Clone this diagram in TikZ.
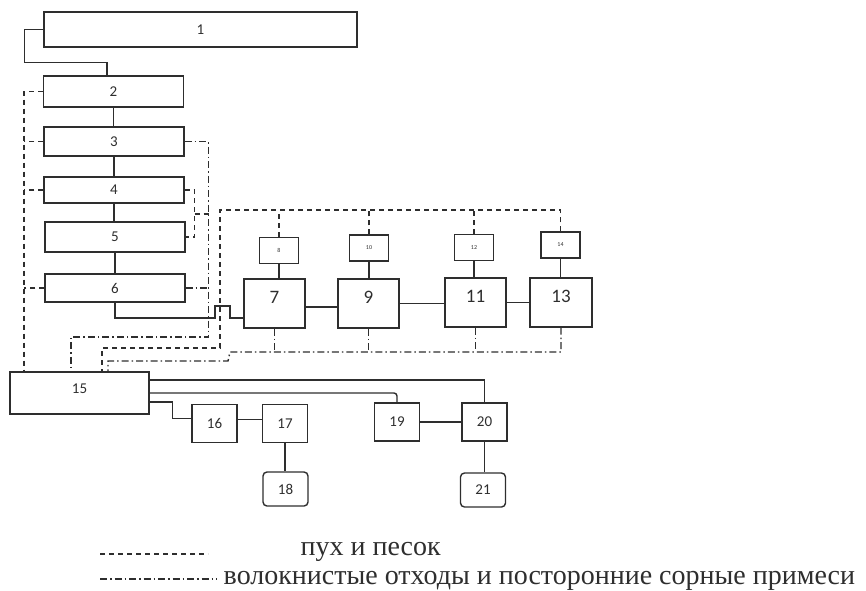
\documentclass[tikz,border=0pt]{standalone}
\usepackage{fontspec}
\setmainfont{Liberation Serif}
\newfontfamily\boxfont{Carlito}
\usepackage{xcolor}
\usetikzlibrary{positioning, calc}
\definecolor{cline}{HTML}{2e2e2e}

\begin{document}
\begin{tikzpicture}[x=1pt, y=-1pt,
  color=cline, line width=1.4pt,
  font=\boxfont\fontsize{15}{15}\selectfont,
  box/.style={draw, inner sep=0pt},
  col/.style={box, minimum width=140pt},
  big/.style={box, minimum width=61pt, minimum height=49pt,
    font=\boxfont\fontsize{19}{19}\selectfont, text height=12pt, text depth=13pt},
  tiny/.style={box, minimum width=39pt, minimum height=26pt,
    font=\boxfont\fontsize{6}{6}\selectfont},
  sq/.style={box, minimum width=45pt, minimum height=38pt},
  term/.style={sq, rounded corners=4pt, minimum height=34pt},
  fluff/.style={dash pattern=on 5pt off 4pt},
  waste/.style={dash pattern=on 7pt off 3pt on 1.5pt off 3pt},
  legend/.style={font=\normalfont\fontsize{28}{28}\selectfont, anchor=base west, inner sep=0pt},
  ]
\useasboundingbox (0,0) rectangle (866,590);

\node[box, minimum width=313pt, minimum height=35pt] (n1) at (200.5,29.5) {1};
\node[col, minimum height=31pt] (n2) at (113.5,91.5) {2};
\node[col, minimum height=29pt] (n3) at (114,141.5) {3};
\node[col, minimum height=26pt] (n4) at (114,190) {4};
\node[col, minimum height=30pt] (n5) at (115,237) {5};
\node[col, minimum height=28pt] (n6) at (115,288) {6};

\node[big] (n7) at (274.5,303.5) {7};
\node[big] (n9) at (368.5,303.5) {9};
\node[big] (n11) at (475.5,302.5) {11};
\node[big, minimum width=62pt] (n13) at (561,302.5) {13};
\node[tiny] (n8) at (279,250.5) {8};
\node[tiny] (n10) at (369,248) {10};
\node[tiny] (n12) at (474,247.5) {12};
\node[tiny] (n14) at (560.5,245) {14};

\node[box, minimum width=139pt, minimum height=42pt, text height=10pt, text depth=10pt]
  (n15) at (79.5,393) {15};
\node[sq] (n16) at (214.5,423.5) {16};
\node[sq] (n17) at (285,423.5) {17};
\node[term] (n18) at (285.5,489) {18};
\node[sq] (n19) at (397,422) {19};
\node[sq] (n20) at (484.5,422) {20};
\node[term] (n21) at (483,490) {21};

% main flow
\draw (n1.west) -- ++(-19,0) -- ++(0,33) -| ([xshift=-6.5pt]n2.north);
\foreach \a/\b in {n2/n3, n3/n4, n4/n5, n5/n6}
  \draw (\a.south) -- (\a.south |- \b.north);
\coordinate (hop) at (215,318);
\draw (n6.south) |- (hop) -- ++(0,-12) -- ++(15,0) -- ++(0,12) -- (hop -| n7.west);
\draw ([yshift=-3.5pt]n7.east) -- ([yshift=-3.5pt]n7.east -| n9.west);
\draw (n9.east) -- (n9.east -| n11.west);
\draw (n11.east) -- (n11.east -| n13.west);
\foreach \a/\b in {n8/n7, n10/n9, n12/n11, n14/n13}
  \draw (\a.south) -- (\a.south |- \b.north);
\draw ([yshift=13pt]n15.east) -| (n20.north);
\draw[rounded corners=3pt] (n15.east) -| (n19.north);
\draw ([yshift=-9pt]n15.east) -- ++(23,0) |- ([yshift=5pt]n16.west);
\draw ([yshift=4pt]n16.east) -- ([yshift=4pt]n16.east -| n17.west);
\draw (n17.south) -- (n17.south |- n18.north);
\draw (n19.east) -- (n19.east -| n20.west);
\draw (n20.south) -- (n20.south |- n21.north);

% fluff and sand
\draw[fluff] (n2.west) -- ++(-19,0) coordinate (dl) -- (dl |- n15.north);
\foreach \b in {n3, n4, n6}
  \draw[fluff] (\b.west) -- (\b.west -| dl);
\draw[fluff] (n4.east) -- ++(10,0) coordinate (db) |- (n5.east);
\coordinate (dtop) at (220,210);
\draw[fluff] (n14.north) |- (dtop) -- ++(0,138) -| (n15.north -| 102,0);
\foreach \b in {n8, n10, n12}
  \draw[fluff] (\b.north) -- (\b.north |- dtop);

% fibrous waste
\draw[waste] (n3.east) -- ++(24,0) coordinate (dd) |- (71,337) -- (n15.north -| 71,0);
\draw[waste] (n6.east) -- (n6.east -| dd);
\draw[fluff] (db |- 0,214) -- (dd |- 0,214);
\draw[waste] (n13.south) |- (230,352) -- (228,361) -| (n15.north -| 108,0);
\foreach \b in {n7, n9, n11}
  \draw[waste] (\b.south) -- (\b.south |- 0,352);

% legend
\node[legend] (lg1) at (300,555) {пух и песок};
\node[legend] (lg2) at (223,584) {волокнистые отходы и посторонние сорные примеси};
\draw[fluff] (100,554) -- (208,554);
\draw[waste] (100,579) -- (217,579);
\end{tikzpicture}
\end{document}
